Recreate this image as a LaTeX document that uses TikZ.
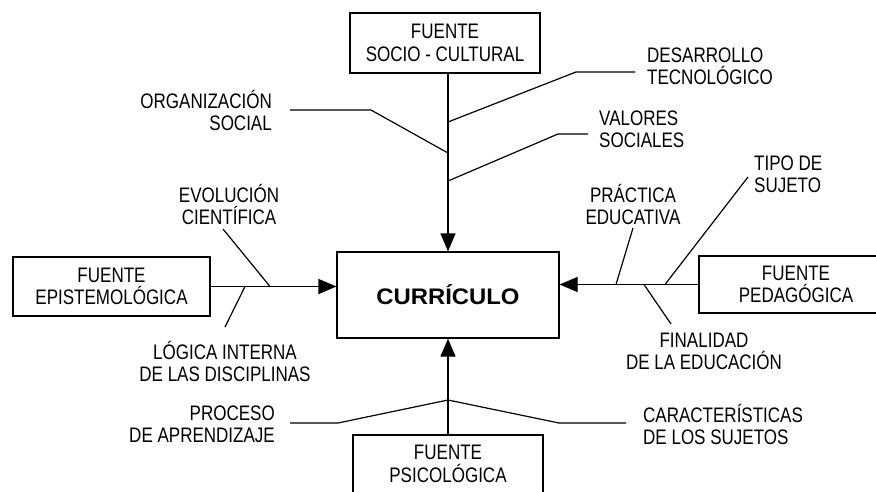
\documentclass[tikz,border=0pt]{standalone}
\usepackage{fontspec}
\setmainfont{Liberation Sans}[FakeStretch=0.81]
\newfontfamily\curfont{Liberation Sans}[FakeStretch=1.06]
\usetikzlibrary{arrows.meta}
\begin{document}
\begin{tikzpicture}[x=1pt,y=-1pt,
 lbl/.style={inner sep=0pt, font=\fontsize{21}{22}\selectfont},
 box/.style={draw, line width=1.2pt, inner sep=0pt, align=center, font=\fontsize{21}{22.5}\selectfont},
 ln/.style={line width=1.2pt},
 arr/.style={line width=1.2pt, -{Triangle[length=18pt,width=15pt]}}]
\useasboundingbox (0,0) rectangle (876,491);
\clip (0,0) rectangle (876,491);
\fill[white] (0,0) rectangle (876,491);

\node[box, minimum width=222pt, minimum height=86pt] (cur) at (448,295) {\curfont\bfseries\fontsize{22.5}{27}\selectfont CURRÍCULO};
\node[box, minimum width=190pt, minimum height=60pt] (fsc) at (445,43) {FUENTE\\SOCIO - CULTURAL};
\node[box, minimum width=197pt, minimum height=59pt] (fep) at (111.5,286.5) {FUENTE\\EPISTEMOLÓGICA};
\node[box, minimum width=194pt, minimum height=57pt] (fpe) at (796,284.5) {FUENTE\\PEDAGÓGICA};
\node[box, minimum width=190pt, minimum height=58pt] (fps) at (448,464) {FUENTE\\PSICOLÓGICA};

\draw[arr] (fsc.south -| cur.north) -- (cur.north);
\draw[arr] (fep.east) -- (fep.east -| cur.west);
\draw[arr] (fpe.west) -- (fpe.west -| cur.east);
\draw[arr] (fps.north) -- (cur.south);

% top branches
\coordinate (jd) at (448,122);
\coordinate (jo) at (448,153);
\coordinate (jv) at (448,181);
\coordinate (od1) at (371,110);
\coordinate (od0) at (290,110);
\coordinate (dd1) at (576,72);
\coordinate (dd0) at (635,72);
\coordinate (vd1) at (558,134);
\coordinate (vd0) at (588,134);
\draw[ln] (od0) -- (od1) -- (jo);
\draw[ln] (jd) -- (dd1) -- (dd0);
\draw[ln] (jv) -- (vd1) -- (vd0);

% left branches
\coordinate (je) at (270,286.5);
\coordinate (ee) at (223,229);
\coordinate (jl) at (245,286.5);
\coordinate (le) at (225,327);
\draw[ln] (ee) -- (je);
\draw[ln] (jl) -- (le);

% right branches
\coordinate (jp) at (616,284.5);
\coordinate (pe) at (633,228);
\coordinate (jt) at (665,284.5);
\coordinate (te) at (748,177);
\coordinate (jf) at (644,284.5);
\coordinate (fe) at (671,324);
\draw[ln] (jp) -- (pe);
\draw[ln] (jt) -- (te);
\draw[ln] (jf) -- (fe);

% bottom branches
\coordinate (jb) at (448,400);
\coordinate (pb1) at (338,423);
\coordinate (pb0) at (290,423);
\coordinate (cb1) at (559,423);
\coordinate (cb0) at (626,423);
\draw[ln] (pb0) -- (pb1) -- (jb) -- (cb1) -- (cb0);

% labels
\node[lbl, align=right, anchor=east] (org) at (272,110) {ORGANIZACIÓN\\SOCIAL};
\node[lbl, align=left, anchor=west] (des) at (647,66) {DESARROLLO\\TECNOLÓGICO};
\node[lbl, align=left, anchor=west] (val) at (599,129) {VALORES\\SOCIALES};
\node[lbl, align=center] (evo) at (229,204) {EVOLUCIÓN\\CIENTÍFICA};
\node[lbl, align=center] (log) at (225,361) {LÓGICA INTERNA\\DE LAS DISCIPLINAS};
\node[lbl, align=right, anchor=east] (pro) at (275,424) {PROCESO\\DE APRENDIZAJE};
\node[lbl, align=left, anchor=west] (car) at (643,424) {CARACTERÍSTICAS\\DE LOS SUJETOS};
\node[lbl, align=center] (pra) at (633,204) {PRÁCTICA\\EDUCATIVA};
\node[lbl, align=left, anchor=west] (tip) at (754,174) {TIPO DE\\SUJETO};
\node[lbl, align=center] (fin) at (704,351) {FINALIDAD\\DE LA EDUCACIÓN};
\end{tikzpicture}
\end{document}
